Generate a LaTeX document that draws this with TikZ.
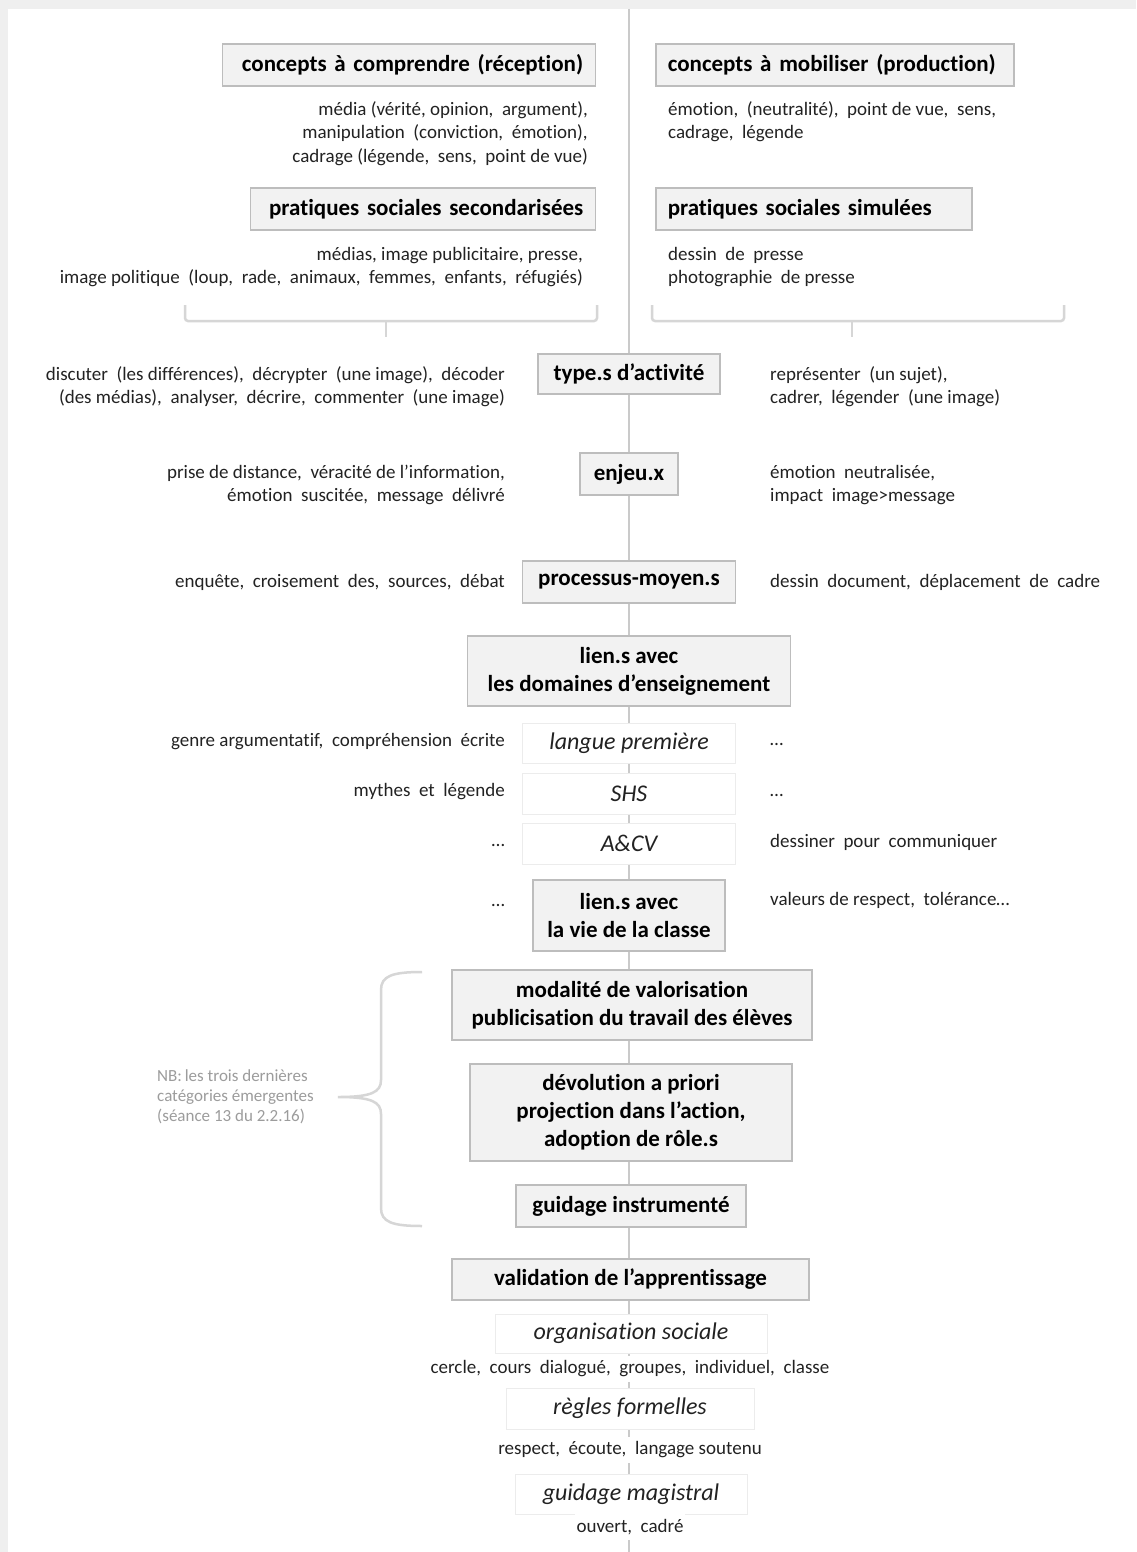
\documentclass[tikz,border=0pt]{standalone}
\usepackage{fontspec}
\setmainfont[Ligatures=NoCommon]{Carlito}
\usetikzlibrary{backgrounds}
\definecolor{boxfill}{HTML}{F2F2F2}
\definecolor{boxline}{HTML}{BDBDBD}
\definecolor{spinecol}{HTML}{CACACA}
\definecolor{ink}{HTML}{222222}
\definecolor{notegray}{HTML}{9C9C9C}
\definecolor{softline}{HTML}{ECECEC}
\definecolor{bracecol}{HTML}{D6D6D6}
\definecolor{pagegray}{HTML}{EFEFEF}
\begin{document}
\begin{tikzpicture}[x=1pt,y=-1pt,
  catbox/.style={draw=boxline, fill=boxfill, line width=1.5pt,
    font=\fontsize{23}{28}\selectfont\bfseries, text=black, inner sep=0pt, align=center},
  sidebox/.style={catbox, inner xsep=12pt, minimum height=42pt},
  subbox/.style={draw=softline, fill=white, line width=1pt,
    font=\fontsize{24}{26}\selectfont\itshape, text=ink, inner sep=0pt},
  body/.style={font=\fontsize{19}{23.5}\selectfont, text=ink, inner sep=0pt},
  lefttext/.style={body, anchor=east, align=right},
  righttext/.style={body, anchor=west, align=left},
  midtext/.style={body, fill=white, inner xsep=2pt, inner ysep=5pt},
  spine/.style={draw=spinecol, line width=2pt},
  bracket/.style={draw=bracecol, line width=2.5pt, rounded corners=3pt},
  note/.style={font=\fontsize{17}{20}\selectfont, text=notegray, inner sep=0pt, align=left, anchor=west}
]
\useasboundingbox (0,0) rectangle (1136,1552);
\fill[pagegray] (0,0) rectangle (1136,1552);
\fill[white] (8,9) rectangle (1136,1552);

% spine
\coordinate (spinetop) at (629,9);
\coordinate (spinebot) at (629,1552);
\draw[spine] (spinetop) -- (spinebot);

% top side boxes
\node[sidebox, anchor=east, text width=349pt, align=right] (c1) at (596,65) {concepts à comprendre (réception)};
\node[sidebox, anchor=west, text width=334pt, align=left] (c2) at (655,65) {concepts à mobiliser (production)};
\node[lefttext] (c1t) at (588,133.5) {média (vérité, opinion,\ \ argument),\\manipulation\ \ (conviction,\ \ émotion),\\cadrage (légende,\ \ sens,\ \ point de vue)};
\node[righttext] (c2t) at (668,121.5) {émotion,\ \ (neutralité),\ \ point de vue,\ \ sens,\\cadrage,\ \ légende};

\node[sidebox, anchor=east, text width=321pt, align=right] (p1) at (596,209) {pratiques sociales secondarisées};
\node[sidebox, anchor=west, text width=292pt, align=left] (p2) at (655,209) {pratiques sociales simulées};
\node[lefttext] (p1t) at (583,267) {médias, image publicitaire, presse,\\image politique\ \ (loup,\ \ rade,\ \ animaux,\ \ femmes,\ \ enfants,\ \ réfugiés)};
\node[righttext] (p2t) at (668,267) {dessin\ \ de\ \ presse\\photographie\ \ de presse};

% brackets
\coordinate (lbA) at (185,305); \coordinate (lbB) at (185,321);
\coordinate (lbC) at (597,321); \coordinate (lbD) at (597,305);
\coordinate (lbM) at (386,321); \coordinate (lbT) at (386,337);
\draw[bracket] (lbA) -- (lbB) -- (lbC) -- (lbD);
\draw[bracket] (lbM) -- (lbT);
\coordinate (rbA) at (652,305); \coordinate (rbB) at (652,321);
\coordinate (rbC) at (1064,321); \coordinate (rbD) at (1064,305);
\coordinate (rbM) at (852,321); \coordinate (rbT) at (852,337);
\draw[bracket] (rbA) -- (rbB) -- (rbC) -- (rbD);
\draw[bracket] (rbM) -- (rbT);

% central boxes
\node[catbox, minimum width=182pt, minimum height=40pt] (type) at (629,374) {type.s d’activité};
\node[lefttext] (typeL) at (505,386.5) {discuter\ \ (les différences),\ \ décrypter\ \ (une image),\ \ décoder\\(des médias),\ \ analyser,\ \ décrire,\ \ commenter\ \ (une image)};
\node[righttext] (typeR) at (770,386.5) {représenter\ \ (un sujet),\\cadrer,\ \ légender\ \ (une image)};

\node[catbox, minimum width=98pt, minimum height=42pt] (enjeu) at (629,474) {enjeu.x};
\node[lefttext] (enjeuL) at (505,485) {prise de distance,\ \ véracité de l’information,\\émotion\ \ suscitée,\ \ message\ \ délivré};
\node[righttext] (enjeuR) at (770,485) {émotion\ \ neutralisée,\\impact\ \ image>message};

\node[catbox, minimum width=213pt, minimum height=42pt] (proc) at (629,582) {processus-moyen.s};
\node[lefttext] (procL) at (505,582) {enquête,\ \ croisement\ \ des,\ \ sources,\ \ débat};
\node[righttext] (procR) at (770,582) {dessin\ \ document,\ \ déplacement\ \ de\ \ cadre};

\node[catbox, minimum width=323pt, minimum height=70pt] (dom) at (629,671) {lien.s avec\\les domaines d’enseignement};

\node[subbox, minimum width=213pt, minimum height=40pt] (lp) at (629,743) {langue première};
\node[lefttext] (lpL) at (505,742) {genre argumentatif,\ \ compréhension\ \ écrite};
\node[righttext] (lpR) at (770,744) {…};
\node[subbox, minimum width=213pt, minimum height=41pt] (shs) at (629,793.5) {SHS};
\node[lefttext] (shsL) at (505,792) {mythes\ \ et\ \ légende};
\node[righttext] (shsR) at (770,795) {…};
\node[subbox, minimum width=213pt, minimum height=41pt] (acv) at (629,843.5) {A\&CV};
\node[lefttext] (acvL) at (505,845) {…};
\node[righttext] (acvR) at (770,842) {dessiner\ \ pour\ \ communiquer};

\node[catbox, minimum width=192pt, minimum height=71pt] (vie) at (629,915.5) {lien.s avec\\la vie de la classe};
\node[lefttext] (vieL) at (505,905) {…};
\node[righttext] (vieR) at (770,900) {valeurs de respect,\ \ tolérance…};

\node[catbox, minimum width=360pt, minimum height=70pt] (modal) at (632,1005) {modalité de valorisation\\publicisation du travail des élèves};
\node[catbox, minimum width=322pt, minimum height=97pt] (devol) at (631,1112.5) {dévolution a priori\\projection dans l’action,\\adoption de rôle.s};
\node[catbox, minimum width=230pt, minimum height=42pt] (guid) at (631,1206) {guidage instrumenté};

% brace and note
\coordinate (brTop) at (422,972);
\coordinate (brTip) at (338,1097);
\coordinate (brBot) at (422,1226);
\draw[draw=bracecol, line width=2.5pt]
  (brTop) .. controls (392,972) and (381,976) .. (381,990) -- (381,1080)
  .. controls (381,1092) and (372,1097) .. (brTip)
  .. controls (372,1097) and (381,1102) .. (381,1114) -- (381,1208)
  .. controls (381,1222) and (392,1226) .. (brBot);
\node[note] (nb) at (157,1097) {NB:\,les trois dernières\\catégories émergentes\\(séance 13 du 2.2.16)};

\node[catbox, minimum width=357pt, minimum height=41pt] (valid) at (630.5,1279.5) {validation de l’apprentissage};
\node[subbox, minimum width=272pt, minimum height=39pt] (orga) at (631,1333.5) {organisation sociale};
\node[midtext] (orgaT) at (630,1369) {cercle,\ \ cours\ \ dialogué,\ \ groupes,\ \ individuel,\ \ classe};
\node[subbox, minimum width=248pt, minimum height=41pt] (regl) at (630,1408.5) {règles formelles};
\node[midtext] (reglT) at (630,1450) {respect,\ \ écoute,\ \ langage soutenu};
\node[subbox, minimum width=232pt, minimum height=40pt] (magis) at (631,1494) {guidage magistral};
\node[midtext] (magisT) at (630,1527) {ouvert,\ \ cadré};
\end{tikzpicture}
\end{document}
